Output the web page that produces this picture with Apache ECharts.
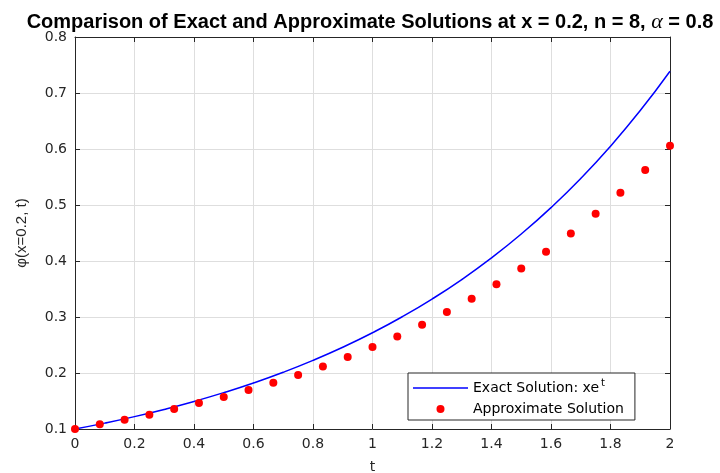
<!DOCTYPE html>
<html>
<head>
<meta charset="utf-8">
<script src="https://cdn.jsdelivr.net/npm/echarts@6/dist/echarts.min.js"></script>
<style>
html,body{margin:0;padding:0;background:#fff;}
#chart{width:720px;height:473px;}
</style>
</head>
<body>
<div id="chart"></div>
<script>
var exactT = [0, 0.1, 0.2, 0.3, 0.4, 0.5, 0.6, 0.7, 0.8, 0.9, 1.0, 1.1, 1.2, 1.3, 1.4, 1.5, 1.6, 1.7, 1.8, 1.9, 2.0];
var exactValues = [0.1, 0.1105, 0.1221, 0.135, 0.1492, 0.1649, 0.1822, 0.2014, 0.2226, 0.246, 0.2718, 0.3004, 0.332, 0.3669, 0.4055, 0.4482, 0.4953, 0.5474, 0.605, 0.6686, 0.7389];
// Approximate solution points
var approxT = [0, 0.0833, 0.1667, 0.25, 0.3333, 0.4167, 0.5, 0.5833, 0.6667, 0.75, 0.8333, 0.9167, 1, 1.0833, 1.1667, 1.25, 1.3333, 1.4167, 1.5, 1.5833, 1.6667, 1.75, 1.8333, 1.9167, 2];
var approxValues = [0.1, 0.1084, 0.1166, 0.1256, 0.1357, 0.1464, 0.157, 0.1696, 0.1827, 0.1964, 0.2118, 0.2286, 0.2464, 0.2654, 0.2863, 0.309, 0.3327, 0.3586, 0.3868, 0.4166, 0.4493, 0.4845, 0.522, 0.5625, 0.606];
var xTicks = {min: 0, max: 2, interval: 0.2};
var yTicks = {min: 0.1, max: 0.8, interval: 0.1};

var FONT = 'Liberation Sans, Arial, sans-serif';
var TICKFONT = 'DejaVu Sans, sans-serif';
var axisColor = '#262626';

function pairs(xs, ys) { return xs.map(function (x, i) { return [x, ys[i]]; }); }

var chart = echarts.init(document.getElementById('chart'), null, {renderer: 'canvas'});

var baseX = {
  type: 'value', min: xTicks.min, max: xTicks.max, interval: xTicks.interval,
  axisLine: {show: true, onZero: false, lineStyle: {color: axisColor, width: 1}},
  axisTick: {show: true, inside: true, length: 5, lineStyle: {color: axisColor}},
};
var baseY = {
  type: 'value', min: yTicks.min, max: yTicks.max, interval: yTicks.interval,
  axisLine: {show: true, onZero: false, lineStyle: {color: axisColor, width: 1}},
  axisTick: {show: true, inside: true, length: 5, lineStyle: {color: axisColor}},
};

var option = {
  backgroundColor: '#fff',
  animation: false,
  textStyle: {fontFamily: FONT},
  title: {
    text: 'Comparison of Exact and Approximate Solutions at x = 0.2, n = 8, {a|α} = 0.8',
    left: 370, textAlign: 'center', top: 11, padding: 0,
    textStyle: {
      fontFamily: FONT, fontSize: 20, fontWeight: 'bold', color: '#000',
      rich: {a: {fontFamily: 'Liberation Serif, serif', fontStyle: 'italic', fontWeight: 'normal', fontSize: 22, color: '#000'}}
    }
  },
  grid: {left: 75, right: 50, top: 37, bottom: 44, containLabel: false, outerBoundsMode: 'none'},
  xAxis: [
    Object.assign({}, baseX, {
      position: 'bottom',
      name: 't', nameLocation: 'middle', nameGap: 31,
      nameTextStyle: {fontFamily: TICKFONT, fontSize: 14, color: axisColor},
      axisLabel: {show: true, fontFamily: TICKFONT, fontSize: 14, color: axisColor, margin: 8,
        formatter: function (v) { return String(Math.round(v * 10) / 10); }},
      splitLine: {show: true, lineStyle: {color: '#dedede', width: 1}}
    }),
    Object.assign({}, baseX, {
      position: 'top', axisLabel: {show: false}, splitLine: {show: false}
    })
  ],
  yAxis: [
    Object.assign({}, baseY, {
      position: 'left',
      name: 'φ(x=0.2, t)', nameLocation: 'middle', nameGap: 46,
      nameTextStyle: {fontFamily: FONT, fontSize: 15, color: axisColor},
      axisLabel: {show: true, fontFamily: TICKFONT, fontSize: 14, color: axisColor, margin: 8,
        formatter: function (v) { return (Math.round(v * 10) / 10).toFixed(1); }},
      splitLine: {show: true, lineStyle: {color: '#dedede', width: 1}}
    }),
    Object.assign({}, baseY, {
      position: 'right', axisLabel: {show: false}, splitLine: {show: false}
    })
  ],
  legend: {
    orient: 'vertical', left: 408, top: 373,
    backgroundColor: '#fff', borderColor: axisColor, borderWidth: 1, borderRadius: 0,
    padding: [5, 11, 3, 5], itemGap: 5, itemWidth: 55, itemHeight: 8,
    data: [
      {name: 'exact', icon: 'path://M0,0L55,0L55,1.6L0,1.6Z', itemStyle: {color: '#0000ff'}},
      {name: 'approx', icon: 'circle'}
    ],
    formatter: function (name) {
      return name === 'exact' ? 'Exact Solution: xe{sup|t}' : 'Approximate Solution';
    },
    textStyle: {
      fontFamily: TICKFONT, fontSize: 14, color: '#000', lineHeight: 16,
      rich: {sup: {fontFamily: TICKFONT, fontSize: 10, color: '#000', padding: [0, 0, 10, 2]}}
    }
  },
  series: [
    {
      name: 'exact', type: 'line', data: pairs(exactT, exactValues),
      smooth: true, showSymbol: false, symbol: 'none',
      lineStyle: {color: '#0000ff', width: 1.5}, itemStyle: {color: '#0000ff'}, z: 2
    },
    {
      name: 'approx', type: 'scatter', data: pairs(approxT, approxValues),
      symbol: 'circle', symbolSize: 8,
      itemStyle: {color: '#ff0000', opacity: 1}, z: 3
    }
  ]
};
chart.setOption(option);
</script>
</body>
</html>
